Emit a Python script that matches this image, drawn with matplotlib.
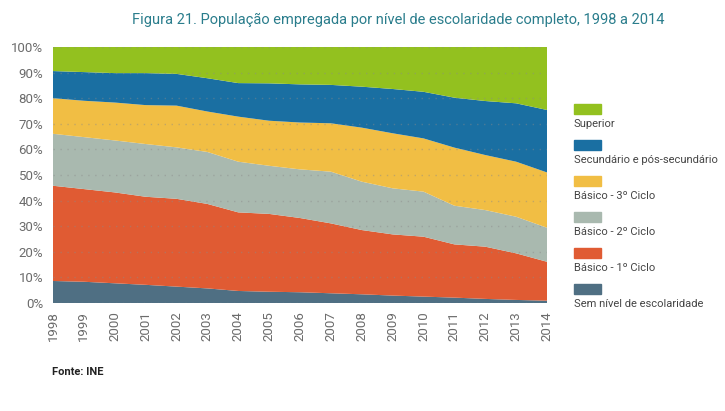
import numpy as np
import matplotlib.pyplot as plt
from matplotlib.patches import Rectangle

years = list(range(1998, 2015))

sem_nivel = [8.6, 8.3, 7.7, 7.1, 6.4, 5.7, 4.7, 4.4, 4.2, 3.8, 3.4, 2.9, 2.5, 2.1, 1.6, 1.2, 0.9]
ciclo_1 = [37.2, 36.2, 35.5, 34.4, 34.3, 33.0, 30.7, 30.4, 29.0, 27.3, 25.1, 23.9, 23.4, 20.8, 20.4, 18.2, 15.2]
ciclo_2 = [20.3, 20.3, 20.3, 20.6, 20.1, 20.3, 19.8, 18.8, 19.0, 20.2, 18.9, 18.0, 17.6, 15.1, 14.3, 14.3, 13.3]
ciclo_3 = [13.9, 14.2, 14.8, 15.2, 16.3, 15.8, 17.6, 17.6, 18.3, 18.9, 21.1, 21.5, 20.8, 22.7, 21.5, 21.5, 21.6]
secundario = [10.6, 11.2, 11.5, 12.5, 12.4, 13.0, 13.1, 14.6, 14.9, 15.0, 16.0, 17.3, 18.2, 19.5, 21.1, 22.8, 24.4]
superior = [9.4, 9.8, 10.2, 10.2, 10.5, 12.2, 14.1, 14.2, 14.6, 14.8, 15.5, 16.4, 17.5, 19.8, 21.1, 22.0, 24.6]

labels = ["Sem nível de escolaridade", "Básico - 1º Ciclo", "Básico - 2º Ciclo",
          "Básico - 3º Ciclo", "Secundário e pós-secundário", "Superior"]
colors = ["#4f6f83", "#e05b33", "#a9b9af", "#f1be44", "#1a6fa2", "#93c11f"]

plt.rcParams['font.family'] = ['Roboto', 'DejaVu Sans']

W, H = 725, 411
fig = plt.figure(figsize=(W / 100, H / 100), dpi=100)
ax = fig.add_axes([53 / W, 1 - 303 / H, (547 - 53) / W, (303 - 47) / H])

series = [sem_nivel, ciclo_1, ciclo_2, ciclo_3, secundario, superior]
ax.stackplot(years, *series, colors=colors, linewidth=0)

ax.set_xlim(1998, 2014)
ax.set_ylim(0, 100)
ax.set_yticks(range(0, 101, 10))
ax.set_yticklabels([f"{v}%" for v in range(0, 101, 10)])
ax.set_xticks(years)
ax.set_xticklabels([str(y) for y in years], rotation=90)
ax.tick_params(axis='both', length=0, colors="#6b6b6b", labelsize=9.5)
ax.tick_params(axis='y', pad=7)
ax.tick_params(axis='x', pad=6)

for v in range(0, 101, 10):
    ax.axhline(v, color="#8a8a8a", linestyle=(0, (1, 4)), linewidth=1.0, alpha=0.45, zorder=5)
for s in ax.spines.values():
    s.set_visible(False)

fig.text(398 / W, 1 - 20 / H, "Figura 21. População empregada por nível de escolaridade completo, 1998 a 2014",
         ha='center', va='center', fontsize=10.5, color="#2a7d8c")
fig.text(52 / W, 1 - 372 / H, "Fonte: INE", ha='left', va='center', fontsize=8, fontweight='bold', color="#222222")

# legend, top to bottom
leg_patch_y = [104, 140, 176, 212, 248, 284]
for i, (lab, col) in enumerate(zip(labels[::-1], colors[::-1])):
    y0 = leg_patch_y[i]
    fig.patches.append(Rectangle((574 / W, 1 - (y0 + 10) / H), 27 / W, 10 / H,
                                 transform=fig.transFigure, color=col))
    fig.text(574 / W, 1 - (y0 + 20) / H, lab, ha='left', va='center', fontsize=8, color="#444444")

fig.savefig("out.png", dpi=100)
